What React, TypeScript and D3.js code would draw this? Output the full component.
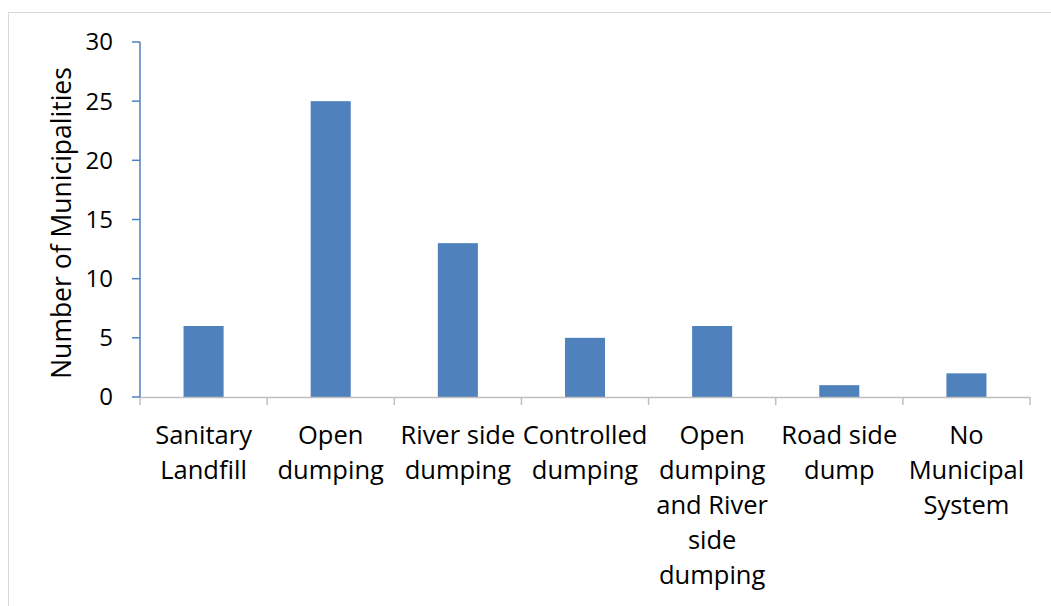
import React from "react";
import * as d3 from "d3";

const categories = [
  "Sanitary\nLandfill",
  "Open\ndumping",
  "River side\ndumping",
  "Controlled\ndumping",
  "Open\ndumping\nand River\nside\ndumping",
  "Road side\ndump",
  "No\nMunicipal\nSystem",
];
const values = [6, 25, 13, 5, 6, 1, 2];
const yTicks = [0, 5, 10, 15, 20, 25, 30];
const yTitle = "Number of Municipalities";

const W = 1051;
const H = 606;
const left = 140;
const right = 1030;
const top = 42;
const bottom = 397;
const font = "'Open Sans', sans-serif";

export default function App() {
  const x = d3.scaleBand<string>().domain(categories).range([left, right]).paddingInner(0).paddingOuter(0);
  const y = d3.scaleLinear().domain([0, 30]).range([bottom, top]);
  const bw = x.bandwidth() * 0.315;
  const bounds = categories.map((c) => x(c) as number).concat([right]);
  return (
    <svg width={W} height={H} style={{ position: "absolute", left: 0, top: 0, background: "#fff" }}>
      <rect x={8.5} y={12.5} width={1100} height={700} fill="#fff" stroke="#d9d9d9" strokeWidth={1} />
      {categories.map((c, i) => (
        <rect
          key={c}
          x={(x(c) as number) + x.bandwidth() / 2 - bw / 2}
          y={y(values[i])}
          width={bw}
          height={y(0) - y(values[i])}
          fill="#4f81bd"
        />
      ))}
      <line x1={left} x2={right} y1={bottom + 0.5} y2={bottom + 0.5} stroke="#bfbfbf" strokeWidth={1.5} />
      {bounds.map((b, i) => (
        <line key={i} x1={b} x2={b} y1={bottom} y2={bottom + 8} stroke="#bfbfbf" strokeWidth={1.5} />
      ))}
      <line x1={left} x2={left} y1={top} y2={bottom} stroke="#4f81bd" strokeWidth={1.5} />
      {yTicks.map((t) => (
        <g key={t}>
          <line x1={left - 8} x2={left} y1={y(t)} y2={y(t)} stroke="#4f81bd" strokeWidth={1.5} />
          <text x={113} y={y(t)} dy="0.35em" textAnchor="end" fontFamily={font} fontSize={24} fill="#000">
            {t}
          </text>
        </g>
      ))}
      {categories.map((c) => (
        <text key={c} textAnchor="middle" fontFamily={font} fontSize={25.5} fill="#000">
          {c.split("\n").map((line, j) => (
            <tspan key={j} x={(x(c) as number) + x.bandwidth() / 2} y={444 + j * 35}>
              {line}
            </tspan>
          ))}
        </text>
      ))}
      <text
        transform={`translate(71, ${(68 + 378) / 2}) rotate(-90)`}
        textAnchor="middle"
        fontFamily={font}
        fontSize={26.5}
        fill="#000"
      >
        {yTitle}
      </text>
    </svg>
  );
}
